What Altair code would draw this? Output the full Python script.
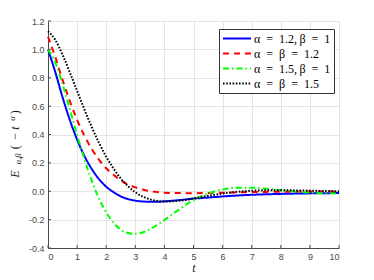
import altair as alt
import pandas as pd

# ---- data ----
t = [0, 0.25, 0.5, 0.75, 1, 1.25, 1.5, 1.75, 2, 2.25, 2.5, 2.75, 3, 3.25, 3.5,
     3.75, 4, 4.5, 5, 5.5, 6, 6.5, 7, 7.5, 8, 8.5, 9, 9.5, 10]

blue = [1.0, 0.840, 0.663, 0.502, 0.364, 0.249, 0.158, 0.086, 0.032, -0.006,
        -0.036, -0.055, -0.066, -0.072, -0.074, -0.074, -0.071, -0.0625, -0.052,
        -0.0445, -0.0366, -0.030, -0.025, -0.0214, -0.0186, -0.0165, -0.0149,
        -0.0136, -0.0128]

red = [1.089, 0.946, 0.785, 0.636, 0.5035, 0.392, 0.299, 0.223, 0.162, 0.116,
       0.077, 0.048, 0.027, 0.012, 0.001, -0.006, -0.0103, -0.0128, -0.0135,
       -0.012, -0.0103, -0.008, -0.0059, -0.0045, -0.0033, -0.0025, -0.0019,
       -0.0014, -0.0011]

green = [1.0, 0.9085, 0.754, 0.577, 0.397, 0.227, 0.0765, -0.050, -0.149,
         -0.222, -0.270, -0.2945, -0.300, -0.291, -0.268, -0.238, -0.203,
         -0.1295, -0.062, -0.0155, 0.013, 0.025, 0.0248, 0.0173, 0.0072,
         -0.0022, -0.0094, -0.0137, -0.0153]

black = [1.128, 1.067, 0.962, 0.838, 0.7065, 0.577, 0.454, 0.342, 0.2435,
         0.161, 0.090, 0.035, -0.007, -0.037, -0.057, -0.068, -0.0726, -0.067,
         -0.051, -0.032, -0.016, -0.004, 0.0034, 0.0068, 0.0072, 0.0059,
         0.0039, 0.0018, 0.0003]

SP = "\u2002"
labels = [
    f"α{SP}={SP}1.2,\u2009β{SP}={SP}1",
    f"α{SP}={SP}β{SP}={SP}1.2",
    f"α{SP}={SP}1.5,\u2009β{SP}={SP}1",
    f"α{SP}={SP}β{SP}={SP}1.5",
]
colors = ["#0000ff", "#ff0000", "#00ff00", "#000000"]
dashes = [[1, 0], [6, 5], [6, 3, 1.5, 3], [1.6, 1.6]]

x_ticks = list(range(11))
y_ticks = [-0.4, -0.2, 0, 0.2, 0.4, 0.6, 0.8, 1, 1.2]

rows = []
for name, vals in zip(labels, [blue, red, green, black]):
    for tt, vv in zip(t, vals):
        rows.append({"s": name, "t": tt, "v": vv})
df = pd.DataFrame(rows)

W, H = 291, 227
AX = "#4a4a4a"
SERIF = "Liberation Serif"

xscale = alt.Scale(domain=[0, 10], nice=False)
yscale = alt.Scale(domain=[-0.4, 1.2], nice=False)

xaxis = alt.Axis(values=x_ticks, title="t", ticks=False, labelOverlap=False,
                 labelPadding=4, labelFontSize=9, labelFont="Liberation Sans",
                 labelColor=AX, titleFont=SERIF, titleFontStyle="italic",
                 titleFontWeight="normal", titleFontSize=12,
                 titleColor="#222222", titlePadding=1,
                 domainColor=AX, gridColor="#e4e4e4")
yaxis = alt.Axis(values=y_ticks, title=None, ticks=False, labelOverlap=False,
                 labelPadding=4, labelFontSize=9, labelFont="Liberation Sans",
                 labelColor=AX,
                 labelExpr="replace(datum.label, '\u2212', '-')",
                 domainColor=AX, gridColor="#e4e4e4")

leg = alt.Legend(
    title=None, orient="none", legendX=171, legendY=8,
    symbolType="stroke", symbolSize=784, symbolStrokeWidth=2,
    clipHeight=13, rowPadding=2, labelFont=SERIF,
    labelFontSize=12, labelColor="black", labelBaseline="middle",
    fillColor="white", strokeColor="#333333", padding=3, labelOffset=2,
)

lines = alt.Chart(df).mark_line(strokeWidth=2, interpolate="monotone",
                                 strokeCap="butt").encode(
    x=alt.X("t:Q", scale=xscale, axis=xaxis),
    y=alt.Y("v:Q", scale=yscale, axis=yaxis),
    color=alt.Color("s:N", scale=alt.Scale(domain=labels, range=colors),
                    legend=leg),
    strokeDash=alt.StrokeDash("s:N", scale=alt.Scale(domain=labels, range=dashes),
                              legend=leg),
)

xt = pd.DataFrame({"t": x_ticks})
yt = pd.DataFrame({"v": y_ticks})
xtick = alt.Chart(xt).mark_rule(color=AX, strokeWidth=1).encode(
    x=alt.X("t:Q", scale=xscale, axis=xaxis), y=alt.value(H), y2=alt.value(H - 3))
ytick = alt.Chart(yt).mark_rule(color=AX, strokeWidth=1).encode(
    y=alt.Y("v:Q", scale=yscale, axis=yaxis), x=alt.value(0), x2=alt.value(3))

one = pd.DataFrame({"a": [0]})


def piece(txt, x, y, size=12, style="normal"):
    return alt.Chart(one).mark_text(
        angle=270, align="left", baseline="alphabetic", font=SERIF,
        fontSize=size, fontStyle=style, color="#222222").encode(
        x=alt.value(x), y=alt.value(y), text=alt.value(txt))


title_parts = [
    piece("E", -28.8, 156.8, 12, "italic"),
    piece("α,β", -26.6, 143.3, 8.5, "italic"),
    piece("(", -28.8, 128.3, 12),
    piece("−", -28.8, 118.8, 12),
    piece("t", -28.8, 108.8, 12, "italic"),
    piece("α", -33.5, 99.8, 8.5, "italic"),
    piece(")", -28.8, 93.3, 12),
]

chart = alt.layer(lines, xtick, ytick, *title_parts).properties(
    width=W, height=H,
    autosize=alt.AutoSizeParams(type="none"),
    padding={"left": 40, "top": 13, "right": 20, "bottom": 25},
).configure_view(stroke=None).configure_axis(domainWidth=1, gridWidth=1,
                                              labelOverlap=False)

chart.save("out.html", embed_options={"renderer": "svg", "actions": False})
